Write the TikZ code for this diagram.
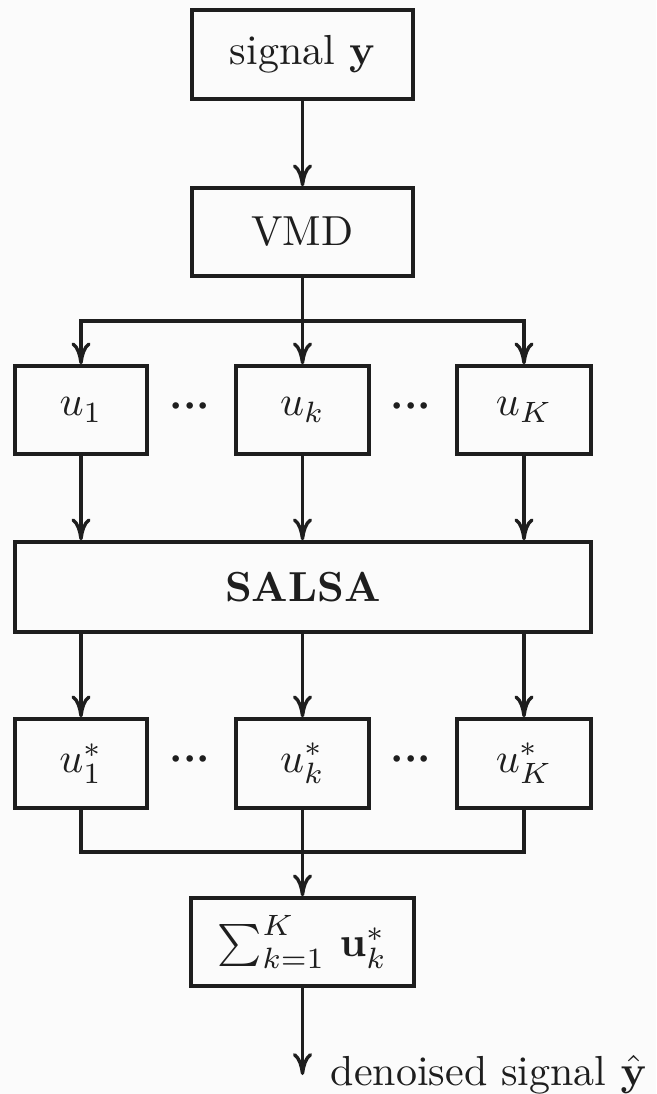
\documentclass[tikz,border=0pt]{standalone}
\usepackage{amsmath}
\usetikzlibrary{arrows.meta}
\definecolor{bgpaper}{RGB}{251,251,251}
\definecolor{ink}{RGB}{30,30,30}
\newcommand{\heavydots}{{\boldmath$\mathord{\cdotp}\mathord{\cdotp}\mathord{\cdotp}$}}
\begin{document}
\begin{tikzpicture}[x=0.25pt,y=-0.25pt,
  txt/.style={text=ink,inner sep=0pt,scale=1.05},
  box/.style={draw=ink,line width=0.85pt,inner sep=0pt},
  conn/.style={draw=ink,line width=0.85pt},
  arr/.style={conn,-{To[length=5.5pt,width=4.8pt]}}]
\fill[bgpaper] (0,0) rectangle (656,1094);
\useasboundingbox (0,0) rectangle (656,1094);

% input and decomposition
\node[box,minimum width=55.25pt,minimum height=22.25pt] (sig) at (302.5,54.5) {};
\node[txt] (sigt) at (sig) {signal $\mathbf{y}$};
\node[box,minimum width=55.25pt,minimum height=22pt] (vmd) at (302.5,232) {};
\node[txt] (vmdt) at (vmd) {VMD};

% modes
\node[box,minimum width=33pt,minimum height=22pt] (u1) at (81,410) {};
\node[txt] (u1t) at (u1) {$u_1$};
\node[box,minimum width=33.25pt,minimum height=22pt] (uk) at (302.5,410) {};
\node[txt] (ukt) at (uk) {$u_k$};
\node[box,minimum width=33.5pt,minimum height=22pt] (uK) at (524,410) {};
\node[txt] (uKt) at (uK) {$u_K$};
\node[txt] (d1) at (190,407) {\heavydots};
\node[txt] (d2) at (411,407) {\heavydots};

% denoising stage
\node[box,minimum width=144pt,minimum height=22.5pt] (salsa) at (303,587) {};
\node[txt] (salsat) at (salsa) {\textbf{SALSA}};

% denoised modes
\node[box,minimum width=33pt,minimum height=22.25pt] (s1) at (81,763.5) {};
\node[txt] (s1t) at (s1) {$u_1^*$};
\node[box,minimum width=33.25pt,minimum height=22.25pt] (sk) at (302.5,763.5) {};
\node[txt] (skt) at (sk) {$u_k^*$};
\node[box,minimum width=33.5pt,minimum height=22.25pt] (sK) at (524,763.5) {};
\node[txt] (sKt) at (sK) {$u_K^*$};
\node[txt] (d3) at (190,760) {\heavydots};
\node[txt] (d4) at (411,760) {\heavydots};

% reconstruction
\node[box,minimum width=55.75pt,minimum height=22pt] (sum) at (302.5,942) {};
\node[txt] (sumt) at (sum) {$\sum_{k=1}^{K}\,\mathbf{u}_k^*$};
\coordinate (out) at (302.5,1075);
\node[txt,anchor=base west] (lab) at (330,1085) {denoised signal $\hat{\mathbf{y}}$};

% connectors
\coordinate (split) at (302.5,321);
\coordinate (merge) at (302.5,852);
\draw[arr] (sig.south) -- (vmd.north);
\draw[conn] (vmd.south) -- (split);
\draw[arr] (split) -| (u1.north);
\draw[arr] (split) -| (uK.north);
\draw[arr] (split) -- (uk.north);
\draw[arr] (u1.south) -- (u1.south |- salsa.north);
\draw[arr] (uk.south) -- (uk.south |- salsa.north);
\draw[arr] (uK.south) -- (uK.south |- salsa.north);
\draw[arr] (s1.north |- salsa.south) -- (s1.north);
\draw[arr] (sk.north |- salsa.south) -- (sk.north);
\draw[arr] (sK.north |- salsa.south) -- (sK.north);
\draw[conn] (s1.south) |- (merge);
\draw[conn] (sK.south) |- (merge);
\draw[arr] (sk.south) -- (sum.north);
\draw[arr] (sum.south) -- (out);
\end{tikzpicture}
\end{document}
